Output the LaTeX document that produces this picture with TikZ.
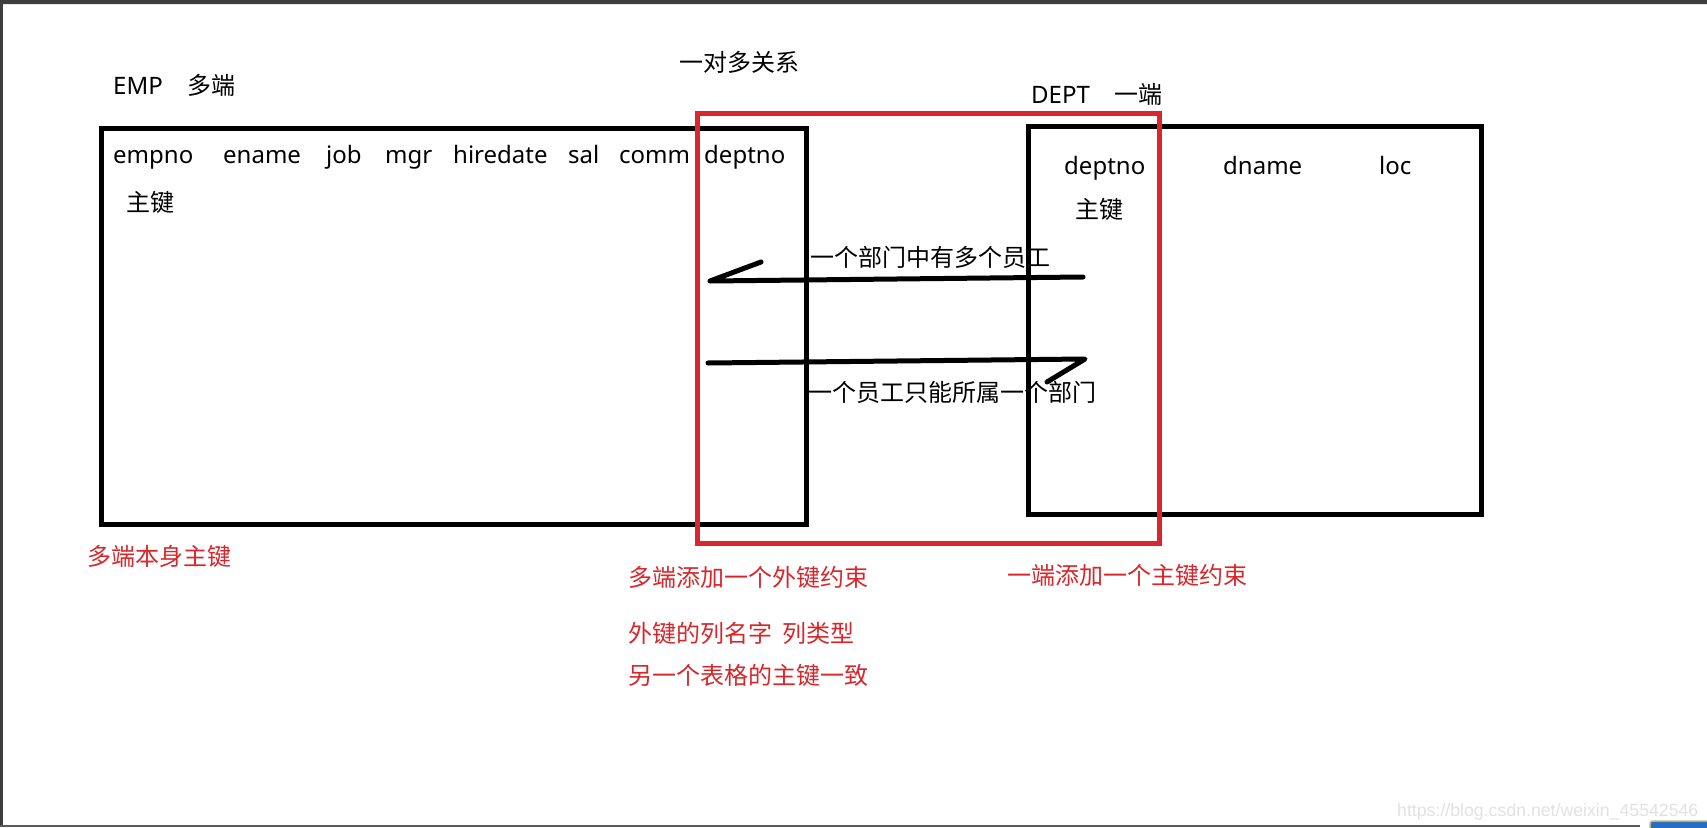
\documentclass[tikz,border=0pt]{standalone}
\usepackage{fontspec}
\setmainfont{Noto Sans}
\newfontfamily\cjk{Noto Sans CJK SC}
\newfontfamily\wm{Liberation Sans}
\definecolor{boxred}{RGB}{218,38,46}
\definecolor{txtred}{RGB}{214,40,44}
\definecolor{frame}{RGB}{62,62,62}
\definecolor{wmgray}{RGB}{226,226,226}
\tikzset{
  tbl/.style={draw=black,line width=5pt},
  rel/.style={draw=boxred,line width=5pt},
  col/.style={anchor=base west,inner sep=0pt,font=\fontsize{24}{28}\selectfont},
  cn/.style={anchor=west,inner sep=0pt,font=\fontsize{24}{28}\selectfont\cjk},
  rcn/.style={cn,text=txtred},
  stroke/.style={draw=black,line width=5pt,line cap=round,line join=round}
}
\begin{document}
\begin{tikzpicture}[x=1pt,y=-1pt]
\useasboundingbox (0,0) rectangle (1707,827);
\fill[white] (0,0) rectangle (1707,827);
% window frame
\fill[frame] (0,0) rectangle (1707,4);
\fill[frame] (0,0) rectangle (3,827);
\fill[black!65] (0,825) rectangle (1640,827);
\fill[black!10] (3,4) rectangle (1707,5);
\draw[draw={rgb,255:red,190;green,175;blue,130},fill={rgb,255:red,40;green,110;blue,190},rounded corners=3pt,line width=1.5pt] (1650,821) rectangle (1715,835);

% tables
\draw[tbl] (101,128) rectangle (806,524);
\draw[tbl] (1028,126) rectangle (1481,514);
% relation box
\draw[rel] (697,113) rectangle (1159,543);

% titles
\node[col,anchor=west] (emp) at (113,85) {EMP\hspace{25pt}{\cjk 多端}};
\node[cn] (rel) at (679,62) {一对多关系};
\node[col,anchor=west] (dept) at (1031,94) {DEPT\hspace{25pt}{\cjk 一端}};

% EMP columns
\node[col] (c1) at (113,163) {empno};
\node[col] (c2) at (223,163) {ename};
\node[col] (c3) at (326,163) {job};
\node[col] (c4) at (385,163) {mgr};
\node[col] (c5) at (453,163) {hiredate};
\node[col] (c6) at (568,163) {sal};
\node[col] (c7) at (619,163) {comm};
\node[col] (c8) at (704,163) {deptno};
\node[cn] (pk1) at (126,202) {主键};

% DEPT columns
\node[col] (d1) at (1064,174) {deptno};
\node[col] (d2) at (1223,174) {dname};
\node[col] (d3) at (1379,174) {loc};
\node[cn] (pk2) at (1075,209) {主键};

% arrows
\coordinate (a1s) at (1083,277);
\coordinate (a1e) at (710,281);
\coordinate (a1h) at (761,262);
\draw[stroke] (a1s) -- (a1e) -- (a1h);
\node[cn] (t1) at (810,257) {一个部门中有多个员工};

\coordinate (a2s) at (708,363);
\coordinate (a2e) at (1085,359);
\coordinate (a2h) at (1047,382);
\draw[stroke] (a2s) -- (a2e) -- (a2h);
\node[cn] (t2) at (808,392) {一个员工只能所属一个部门};

% red notes
\node[rcn] (n1) at (87,556) {多端本身主键};
\node[rcn] (n2) at (628,577) {多端添加一个外键约束};
\node[rcn] (n3) at (628,633) {外键的列名字\hspace{10pt}列类型};
\node[rcn] (n4) at (628,675) {另一个表格的主键一致};
\node[rcn] (n5) at (1007,575) {一端添加一个主键约束};

% watermark
\node[anchor=west,inner sep=0pt,text=wmgray,font=\fontsize{17.7}{20}\selectfont\wm] (wm) at (1397,812) {https://blog.csdn.net/weixin\_45542546};
\end{tikzpicture}
\end{document}
